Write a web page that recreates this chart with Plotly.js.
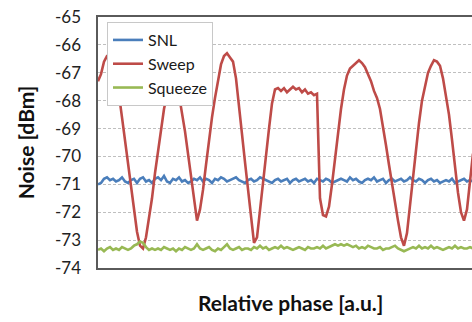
<!DOCTYPE html>
<html>
<head>
<meta charset="utf-8">
<script src="https://cdn.plot.ly/plotly-3.0.1.min.js"></script>
<style>html,body{margin:0;padding:0;background:#fff;}#chart{width:472px;height:322px;}</style>
</head>
<body>
<div id="chart"></div>
<script>
var seriesNames = ["SNL", "Sweep", "Squeeze"];
var yTickVals = [-74, -73, -72, -71, -70, -69, -68, -67, -66, -65];
var yTickText = ["-74", "-73", "-72", "-71", "-70", "-69", "-68", "-67", "-66", "-65"];

var snl = [
-71.0,-70.95,-70.8,-70.75,-70.85,-70.8,-70.9,-70.85,-70.75,-70.9,
-70.95,-70.85,-70.8,-70.95,-70.8,-70.75,-70.9,-70.85,-70.95,-70.8,
-70.75,-70.85,-70.7,-70.9,-70.95,-70.8,-70.85,-70.75,-70.9,-70.85,
-70.95,-70.9,-70.8,-70.85,-70.75,-70.9,-70.8,-70.85,-70.95,-70.8,
-70.85,-70.75,-70.8,-70.9,-70.85,-70.8,-70.75,-70.85,-70.9,-70.95,
-70.85,-70.8,-70.9,-70.85,-70.75,-70.8,-70.85,-70.9,-70.95,-70.85,
-70.8,-70.9,-70.85,-70.8,-70.95,-70.85,-70.8,-70.9,-70.85,-70.8,
-70.9,-70.85,-70.95,-70.8,-70.85,-70.9,-70.8,-70.85,-70.95,-70.9,
-70.85,-70.8,-70.85,-70.9,-70.75,-70.85,-70.8,-70.9,-70.95,-70.85,
-70.8,-70.85,-70.75,-70.9,-70.85,-70.8,-70.95,-70.85,-70.8,-70.9,
-70.85,-70.8,-70.9,-70.85,-70.75,-70.85,-70.9,-70.8,-70.85,-70.95,
-70.85,-70.8,-70.9,-70.85,-70.95,-70.9,-70.85,-70.9,-70.8,-70.95,
-70.9,-70.85,-70.8,-70.9,-70.85,-70.9
];

var sweep = [
-67.3,-67.05,-66.6,-66.4,-66.35,-66.7,-67.3,-67.8,-68.6,-69.4,
-70.1,-70.9,-71.8,-72.7,-73.2,-73.3,-72.9,-72.2,-71.5,-70.6,
-69.8,-69.0,-68.3,-67.8,-67.1,-66.7,-67.1,-67.8,-68.4,-69.1,
-69.9,-70.7,-71.6,-72.3,-71.9,-71.2,-70.3,-69.4,-68.6,-67.9,
-67.3,-66.7,-66.4,-66.3,-66.45,-66.6,-67.2,-68.1,-69.2,-70.2,
-71.2,-72.2,-73.1,-72.9,-71.9,-70.8,-69.9,-69.0,-68.1,-67.6,
-67.55,-67.65,-67.55,-67.7,-67.6,-67.5,-67.6,-67.55,-67.7,-67.6,
-67.75,-67.7,-67.8,-67.75,-71.5,-72.1,-72.15,-71.8,-71.0,-70.1,
-69.1,-68.3,-67.6,-67.1,-66.85,-66.75,-66.65,-66.55,-66.65,-66.8,
-67.05,-67.3,-67.65,-67.9,-68.3,-68.9,-69.6,-70.3,-71.0,-71.7,
-72.3,-72.9,-73.2,-72.75,-71.7,-70.7,-69.7,-68.8,-68.0,-67.45,
-67.0,-66.75,-66.55,-66.6,-66.75,-67.2,-67.8,-68.5,-69.4,-70.4,
-71.3,-72.0,-72.3,-71.9,-70.8,-69.9
];

var squeeze = [
-73.35,-73.3,-73.4,-73.3,-73.25,-73.35,-73.3,-73.35,-73.25,-73.3,
-73.35,-73.3,-73.2,-73.15,-73.05,-73.1,-73.25,-73.35,-73.3,-73.35,
-73.3,-73.35,-73.25,-73.3,-73.35,-73.3,-73.4,-73.3,-73.35,-73.25,
-73.3,-73.35,-73.3,-73.15,-73.3,-73.35,-73.3,-73.25,-73.35,-73.4,
-73.3,-73.35,-73.25,-73.15,-73.3,-73.35,-73.3,-73.25,-73.35,-73.3,
-73.3,-73.35,-73.25,-73.3,-73.2,-73.3,-73.25,-73.35,-73.3,-73.25,
-73.3,-73.2,-73.3,-73.25,-73.3,-73.35,-73.3,-73.25,-73.3,-73.35,
-73.25,-73.3,-73.3,-73.25,-73.3,-73.2,-73.3,-73.25,-73.2,-73.15,
-73.2,-73.15,-73.2,-73.15,-73.2,-73.25,-73.2,-73.3,-73.25,-73.3,
-73.2,-73.25,-73.3,-73.3,-73.25,-73.35,-73.3,-73.3,-73.25,-73.2,
-73.3,-73.35,-73.4,-73.35,-73.3,-73.25,-73.3,-73.2,-73.3,-73.25,
-73.3,-73.2,-73.3,-73.25,-73.3,-73.35,-73.3,-73.25,-73.3,-73.2,
-73.3,-73.25,-73.3,-73.3,-73.25,-73.3
];

var colors = ["#4A7EBB", "#BE4B48", "#98B954"];
var fontFam = "Lato, 'Open Sans', sans-serif";

var traces = [snl, sweep, squeeze].map(function (ys, k) {
  return {
    type: "scatter", mode: "lines", name: seriesNames[k], y: ys,
    line: {color: colors[k], width: 2.6}
  };
});

var layout = {
  width: 472, height: 322,
  margin: {l: 98, r: 0, t: 17, b: 54},
  paper_bgcolor: "#fff", plot_bgcolor: "#fff",
  showlegend: true,
  legend: {
    x: 0.024, y: 0.98, xanchor: "left", yanchor: "top",
    bgcolor: "#fff", bordercolor: "#c8c8c8", borderwidth: 1,
    font: {family: fontFam, size: 16, color: "#1a1a1a"},
    itemwidth: 30, tracegroupgap: 0
  },
  xaxis: {
    range: [0, 124.67], showticklabels: false, ticks: "", showgrid: false,
    zeroline: false, showline: true, linecolor: "#5a5a5a", linewidth: 1.6, mirror: true
  },
  yaxis: {
    range: [-74, -65], tickvals: yTickVals, ticktext: yTickText, ticks: "",
    showgrid: true, gridcolor: "#bfbfbf", griddash: "3px,2px", gridwidth: 1,
    zeroline: false, showline: true, linecolor: "#5a5a5a", linewidth: 1.6,
    ticklabelstandoff: 12,
    tickfont: {family: fontFam, size: 17, color: "#222"},
    title: {text: "Noise [dBm]", font: {family: fontFam, size: 21, color: "#111", weight: "bold"}, standoff: 14}
  },
  annotations: [{
    xref: "paper", yref: "paper", x: 0.516, y: 0, yshift: -34, yanchor: "middle",
    text: "<b>Relative phase [a.u.]</b>", showarrow: false,
    font: {family: fontFam, size: 21, color: "#111"}
  }]
};

Plotly.newPlot("chart", traces, layout, {staticPlot: true, displayModeBar: false});
</script>
</body>
</html>
